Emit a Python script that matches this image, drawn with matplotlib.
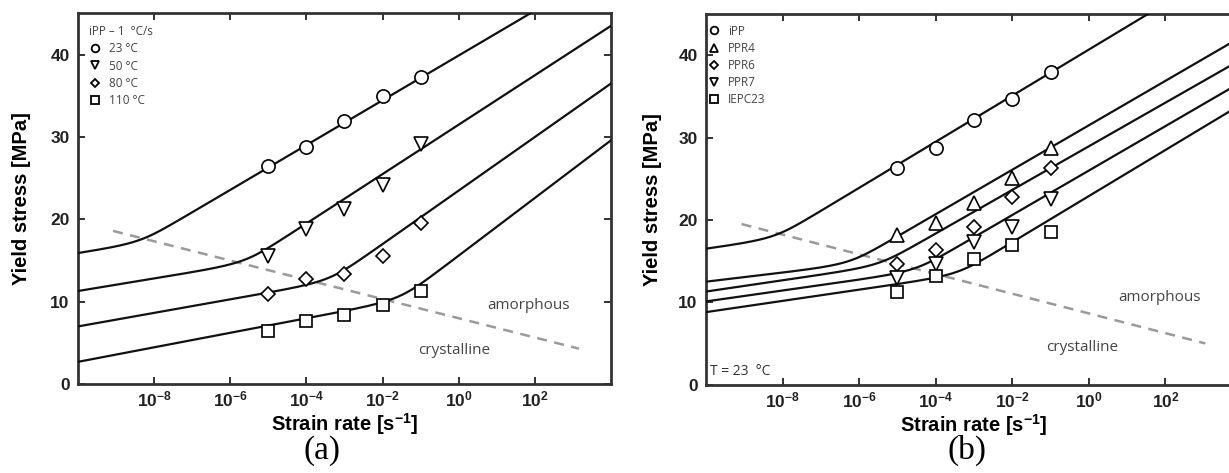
import numpy as np
import matplotlib
matplotlib.use("Agg")
import matplotlib.pyplot as plt
from matplotlib.lines import Line2D

plt.rcParams['font.family'] = ['Liberation Sans', 'DejaVu Sans']
plt.rcParams['mathtext.fontset'] = 'custom'
plt.rcParams['mathtext.rm'] = 'Liberation Sans:bold'
plt.rcParams['mathtext.bf'] = 'Liberation Sans:bold'
plt.rcParams['mathtext.it'] = 'Liberation Sans:bold'

# measured strain rates [1/s]
rates = [1e-5, 1e-4, 1e-3, 1e-2, 1e-1]

# (a) iPP, cooled at 1 C/s, tested at several temperatures
temp_labels = ["23 °C", "50 °C", "80 °C", "110 °C"]
temp_markers = ["o", "v", "D", "s"]
ys_23 = [26.5, 28.8, 32.0, 35.0, 37.3]
ys_50 = [15.6, 18.8, 21.2, 24.2, 29.1]
ys_80 = [10.9, 12.7, 13.4, 15.6, 19.5]
ys_110 = [6.4, 7.6, 8.4, 9.6, 11.3]

# two-process Eyring fits: stress at 1e-10/s, low slope, high slope, high asymptote at 1/s
fit_23 = [15.9, 0.72, 2.72, 39.9]
fit_50 = [11.3, 0.76, 3.00, 31.5]
fit_80 = [7.0, 0.82, 3.25, 23.5]
fit_110 = [2.7, 0.88, 3.50, 15.6]

# (b) grades at 23 C
grade_labels = ["iPP", "PPR4", "PPR6", "PPR7", "IEPC23"]
grade_markers = ["o", "^", "D", "v", "s"]
ys_ipp = [26.3, 28.8, 32.1, 34.7, 38.0]
ys_ppr4 = [18.2, 19.6, 22.0, 25.1, 28.8]
ys_ppr6 = [14.7, 16.3, 19.2, 22.8, 26.3]
ys_ppr7 = [13.0, 14.7, 17.3, 19.2, 22.5]
ys_iepc = [11.3, 13.2, 15.3, 16.9, 18.5]

fit_ipp = [16.5, 0.65, 2.80, 40.7]
fit_ppr4 = [12.5, 0.55, 2.70, 31.5]
fit_ppr6 = [11.3, 0.68, 2.65, 28.95]
fit_ppr7 = [10.1, 0.66, 2.70, 26.0]
fit_iepc = [8.8, 0.68, 2.80, 22.9]

# amorphous / crystalline boundary (dashed)
bound_rate_a = [10**-9.08, 10**3.16]
bound_ys_a = [18.6, 4.3]
bound_rate_b = [10**-9.07, 10**3.04]
bound_ys_b = [19.5, 5.0]

xticks = [1e-8, 1e-6, 1e-4, 1e-2, 1e0, 1e2]
xticklabels = [r'$10^{-8}$', r'$10^{-6}$', r'$10^{-4}$', r'$10^{-2}$', r'$10^{0}$', r'$10^{2}$']
yticks = [0, 10, 20, 30, 40]

MARKER_SIZE = {'o': 9.5, 'v': 9.5, '^': 9.5, 'D': 7.5, 's': 8.0}


def eyring(rate, p):
    sig0, s1, s_hi, h0 = p
    s2 = s_hi - s1
    c2 = np.log10(2) - (h0 - sig0 - 10 * s1) / s2
    L = np.log10(rate)
    return sig0 + s1 * (L + 10) + s2 * np.arcsinh(rate / 10**c2) / np.log(10)


def style_axes(ax):
    ax.set_xscale('log')
    ax.set_xlim(1e-10, 1e4)
    ax.set_ylim(0, 45)
    ax.set_xticks(xticks)
    ax.set_xticklabels(xticklabels, fontsize=12.5)
    ax.minorticks_off()
    ax.set_yticks(yticks)
    ax.set_yticklabels([str(t) for t in yticks], fontsize=12.5, fontweight='bold')
    ax.tick_params(direction='in', top=True, right=True, length=5, width=1.3,
                   pad=6, colors='#222')
    ax.tick_params(axis='x', pad=4)
    for sp in ax.spines.values():
        sp.set_linewidth(2.0)
        sp.set_color('#333')
    ax.set_xlabel(r'Strain rate [s$^{-1}$]', fontsize=14.5, fontweight='bold')
    ax.set_ylabel('Yield stress [MPa]', fontsize=14.5, fontweight='bold')


def legend_handles(markers):
    return [Line2D([], [], marker=m, ms=4.5 if m == 'D' else 5.5, mfc='white',
                   mec='black', mew=1.3, ls='none') for m in markers]


fig = plt.figure(figsize=(12.29, 4.73), dpi=100)
ax_a = fig.add_axes([78 / 1229, 0.188, 533 / 1229, 0.7835])
ax_b = fig.add_axes([706 / 1229, 0.187, 536 / 1229, 0.783])

grid = np.logspace(-10, 4, 600)
mk = dict(mfc='white', mec='black', mew=1.2, ls='none', zorder=4)
note = dict(fontsize=11, color='#444', family='Open Sans', ha='center', va='center')

# panel (a)
for ys, p, m in zip([ys_23, ys_50, ys_80, ys_110],
                    [fit_23, fit_50, fit_80, fit_110], temp_markers):
    ax_a.plot(grid, eyring(grid, p), color='#111', lw=1.6, zorder=3)
    ax_a.plot(rates, ys, marker=m, ms=MARKER_SIZE[m], **mk)
ax_a.plot(bound_rate_a, bound_ys_a, color='#9a9a9a', lw=1.8, ls=(0, (4, 3)), zorder=2)
ax_a.text(10**1.84, 9.6, 'amorphous', **note)
ax_a.text(10**-0.13, 4.1, 'crystalline', **note)
leg = ax_a.legend(legend_handles(temp_markers), temp_labels, title='iPP – 1  °C/s',
                  loc='upper left', bbox_to_anchor=(0.02, 0.968), frameon=False,
                  borderpad=0, borderaxespad=0, labelspacing=0.35, handlelength=1.0,
                  handletextpad=0.7, alignment='left',
                  prop={'family': 'Open Sans', 'size': 8.5},
                  title_fontproperties={'family': 'Open Sans', 'size': 8.5})
for t in leg.get_texts():
    t.set_color('#444')
leg.get_title().set_color('#444')
style_axes(ax_a)
ax_a.yaxis.set_label_coords(-0.088, 0.5)
ax_a.xaxis.set_label_coords(0.5, -0.074)

# panel (b)
for ys, p, m in zip([ys_ipp, ys_ppr4, ys_ppr6, ys_ppr7, ys_iepc],
                    [fit_ipp, fit_ppr4, fit_ppr6, fit_ppr7, fit_iepc], grade_markers):
    ax_b.plot(grid, eyring(grid, p), color='#111', lw=1.6, zorder=3)
    ax_b.plot(rates, ys, marker=m, ms=MARKER_SIZE[m], **mk)
ax_b.plot(bound_rate_b, bound_ys_b, color='#9a9a9a', lw=1.8, ls=(0, (4, 3)), zorder=2)
ax_b.text(10**1.84, 10.6, 'amorphous', **note)
ax_b.text(10**-0.18, 4.5, 'crystalline', **note)
ax_b.text(0.008, 0.034, 'T = 23  °C', transform=ax_b.transAxes, fontsize=10,
          color='#333', family='Open Sans', ha='left', va='center')
leg_b = ax_b.legend(legend_handles(grade_markers), grade_labels, loc='upper left',
                    bbox_to_anchor=(0.003, 0.972), frameon=False, borderpad=0,
                    borderaxespad=0, labelspacing=0.35, handlelength=1.0,
                    handletextpad=0.7, prop={'family': 'Open Sans', 'size': 8.5})
for t in leg_b.get_texts():
    t.set_color('#444')
style_axes(ax_b)
ax_b.yaxis.set_label_coords(-0.082, 0.5)
ax_b.xaxis.set_label_coords(0.5, -0.074)

fig.text(322 / 1229, 0.047, '(a)', fontsize=24, family='Liberation Serif',
         ha='center', va='center')
fig.text(967 / 1229, 0.047, '(b)', fontsize=24, family='Liberation Serif',
         ha='center', va='center')

fig.savefig('out.png', dpi=100)
